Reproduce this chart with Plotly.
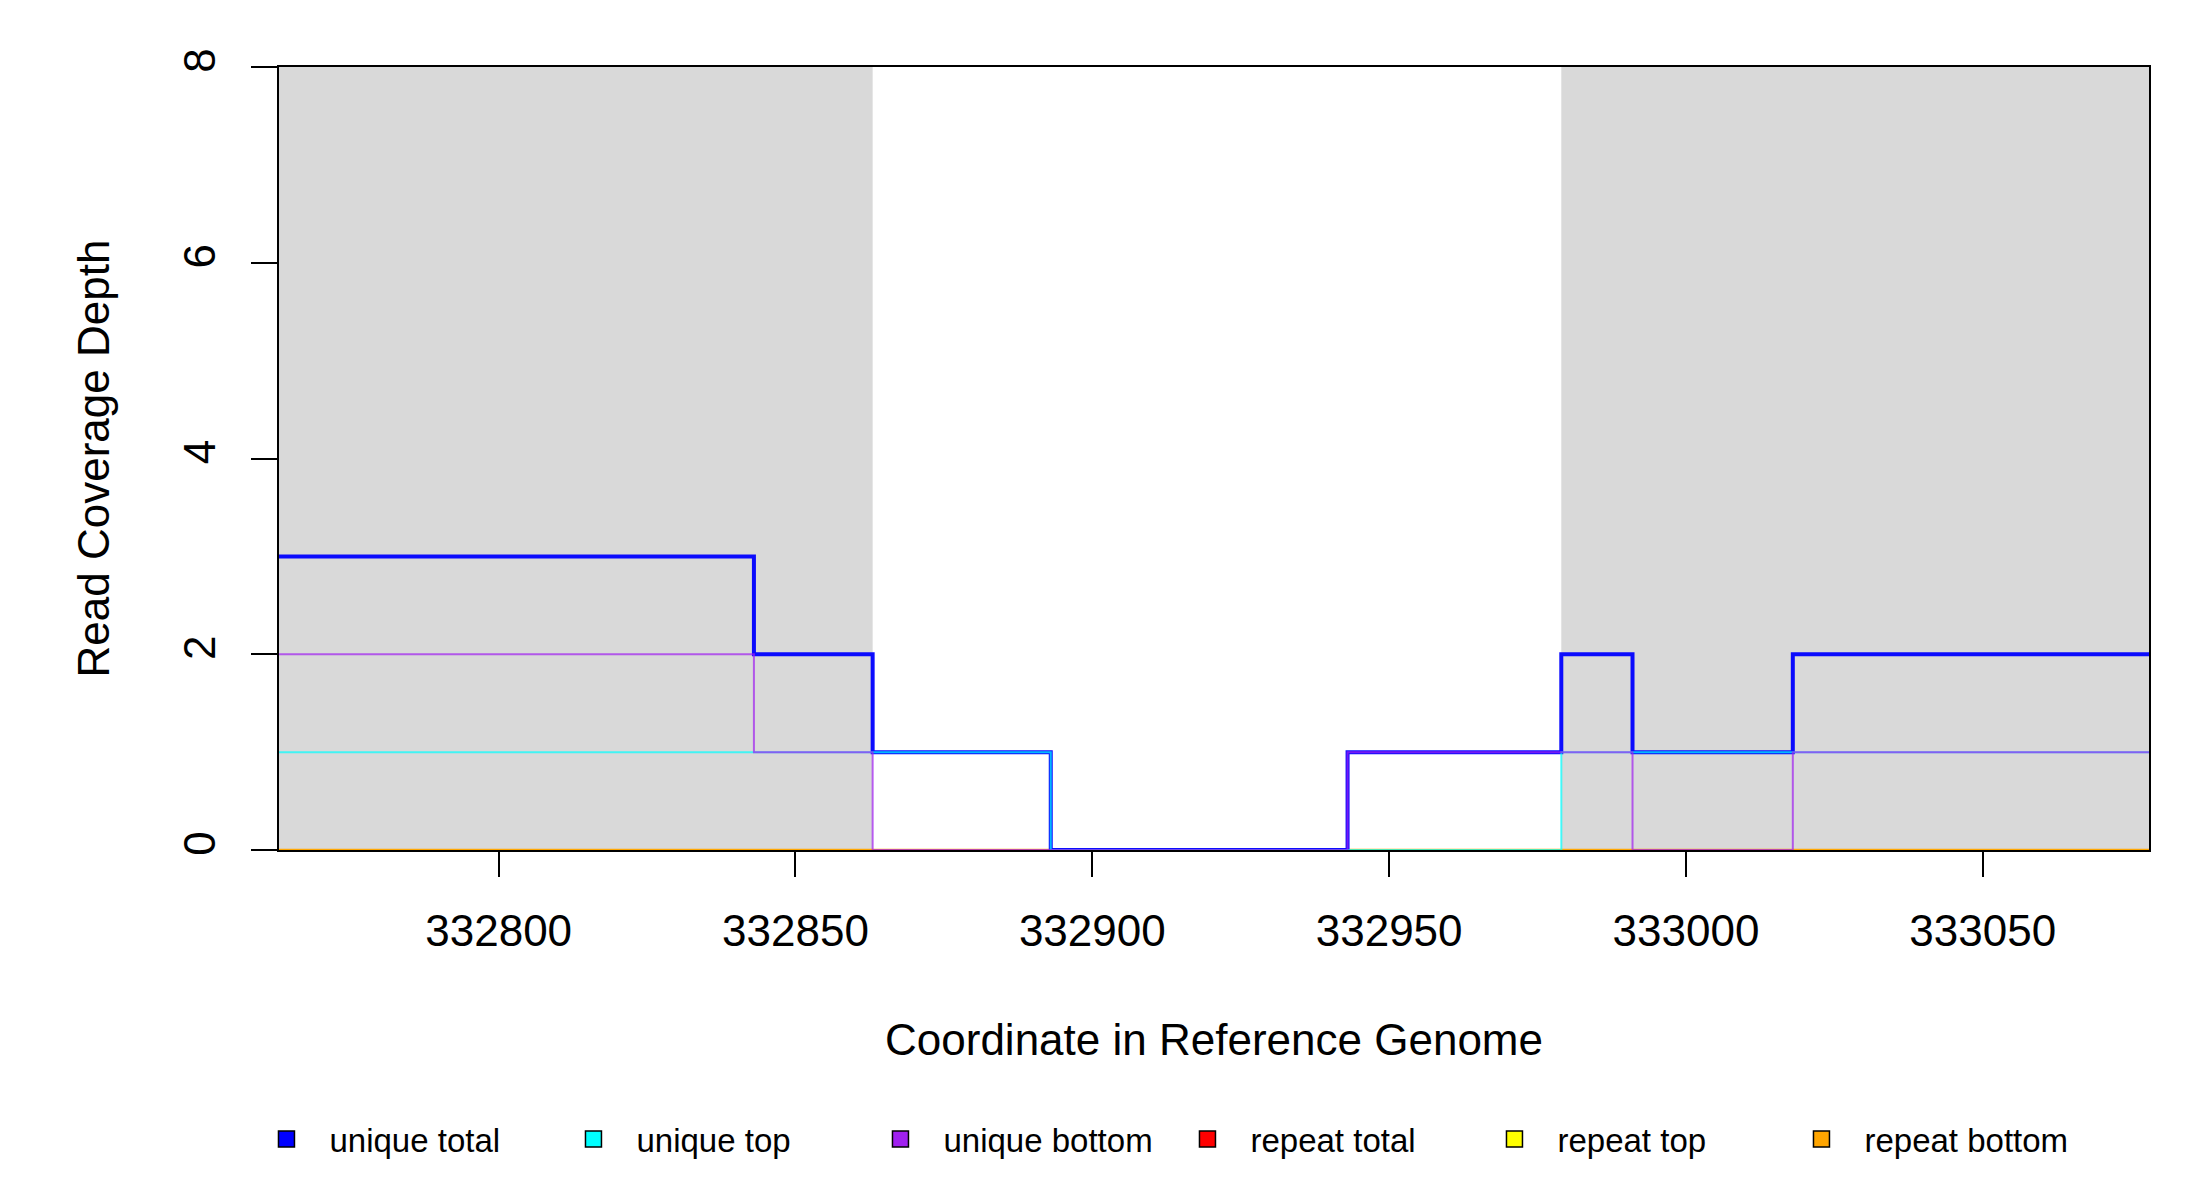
import plotly.graph_objects as go

# step boundaries along the reference coordinate (bins are left-closed)
BREAKS = [332763, 332843, 332863, 332893, 332943, 332979, 332991, 333018, 333078]

UNIQUE_TOTAL = [3, 2, 1, 0, 1, 2, 1, 2]
UNIQUE_TOP = [1, 1, 1, 0, 0, 1, 1, 1]
UNIQUE_BOTTOM = [2, 1, 0, 0, 1, 1, 0, 1]
REPEAT_TOTAL = [0, 0, 0, 0, 0, 0, 0, 0]
REPEAT_TOP = [0, 0, 0, 0, 0, 0, 0, 0]
REPEAT_BOTTOM = [0, 0, 0, 0, 0, 0, 0, 0]

# gray shaded regions
SHADE_START = [332763, 332979]
SHADE_END = [332863, 333078]

X_TICKS = [332800, 332850, 332900, 332950, 333000, 333050]
Y_TICKS = [0, 2, 4, 6, 8]

FONT = "Liberation Sans, Arial, sans-serif"

# drawn in this order so the unique lines sit on top of the repeat lines
SERIES = [
    ("repeat total", REPEAT_TOTAL, "rgba(255,0,0,0.6)", 2),
    ("repeat top", REPEAT_TOP, "rgba(255,255,0,0.6)", 2),
    ("repeat bottom", REPEAT_BOTTOM, "rgba(255,165,0,0.95)", 2.5),
    ("unique total", UNIQUE_TOTAL, "rgba(0,0,255,0.95)", 4),
    ("unique top", UNIQUE_TOP, "rgba(0,255,255,0.7)", 2),
    ("unique bottom", UNIQUE_BOTTOM, "rgba(160,32,240,0.7)", 2),
]

LEGEND_ORDER = ["unique total", "unique top", "unique bottom",
                "repeat total", "repeat top", "repeat bottom"]
LEGEND_COLORS = {
    "unique total": "#0000FF", "unique top": "#00FFFF", "unique bottom": "#A020F0",
    "repeat total": "#FF0000", "repeat top": "#FFFF00", "repeat bottom": "#FFA500",
}

fig = go.Figure()

for x0, x1 in zip(SHADE_START, SHADE_END):
    fig.add_vrect(x0=x0, x1=x1, fillcolor="#D9D9D9", line_width=0, layer="below")

for name, vals, color, width in SERIES:
    fig.add_trace(go.Scatter(
        x=BREAKS,
        y=vals + [vals[-1]],
        mode="lines",
        line=dict(color=color, width=width, shape="hv"),
        name=name,
        showlegend=False,
    ))

# legend entries as filled squares
for name in LEGEND_ORDER:
    fig.add_trace(go.Scatter(
        x=[None], y=[None],
        mode="markers",
        marker=dict(symbol="square", size=16, color=LEGEND_COLORS[name],
                    line=dict(color="black", width=1.5)),
        name=name,
    ))

fig.update_layout(
    width=2200,
    height=1200,
    margin=dict(l=271, r=59, t=59, b=358),
    paper_bgcolor="white",
    plot_bgcolor="white",
    font=dict(family=FONT, size=44, color="black"),
    showlegend=True,
    legend=dict(
        orientation="h",
        x=-0.019, xanchor="left",
        y=-0.369, yanchor="middle",
        font=dict(size=33),
        entrywidth=216,
        itemwidth=76,
        bgcolor="rgba(0,0,0,0)",
    ),
)

fig.update_xaxes(
    range=[BREAKS[0], BREAKS[-1]],
    tickvals=X_TICKS,
    ticktext=[str(v) for v in X_TICKS],
    ticks="outside", ticklen=25, tickwidth=1.5, tickcolor="black",
    ticklabelstandoff=16,
    showline=True, mirror=True, linecolor="black", linewidth=1.5,
    showgrid=False, zeroline=False,
    layer="below traces",
    title=dict(text="Coordinate in Reference Genome", standoff=71, font=dict(size=44)),
)
fig.update_yaxes(
    range=[0, 8],
    tickvals=Y_TICKS,
    ticks="outside", ticklen=26, tickwidth=1.5, tickcolor="black",
    tickangle=-90,
    ticklabelstandoff=19,
    showline=True, mirror=True, linecolor="black", linewidth=1.5,
    showgrid=False, zeroline=False,
    layer="below traces",
    title=dict(text="Read Coverage Depth", standoff=51, font=dict(size=44)),
)

fig.write_html("out.html")
